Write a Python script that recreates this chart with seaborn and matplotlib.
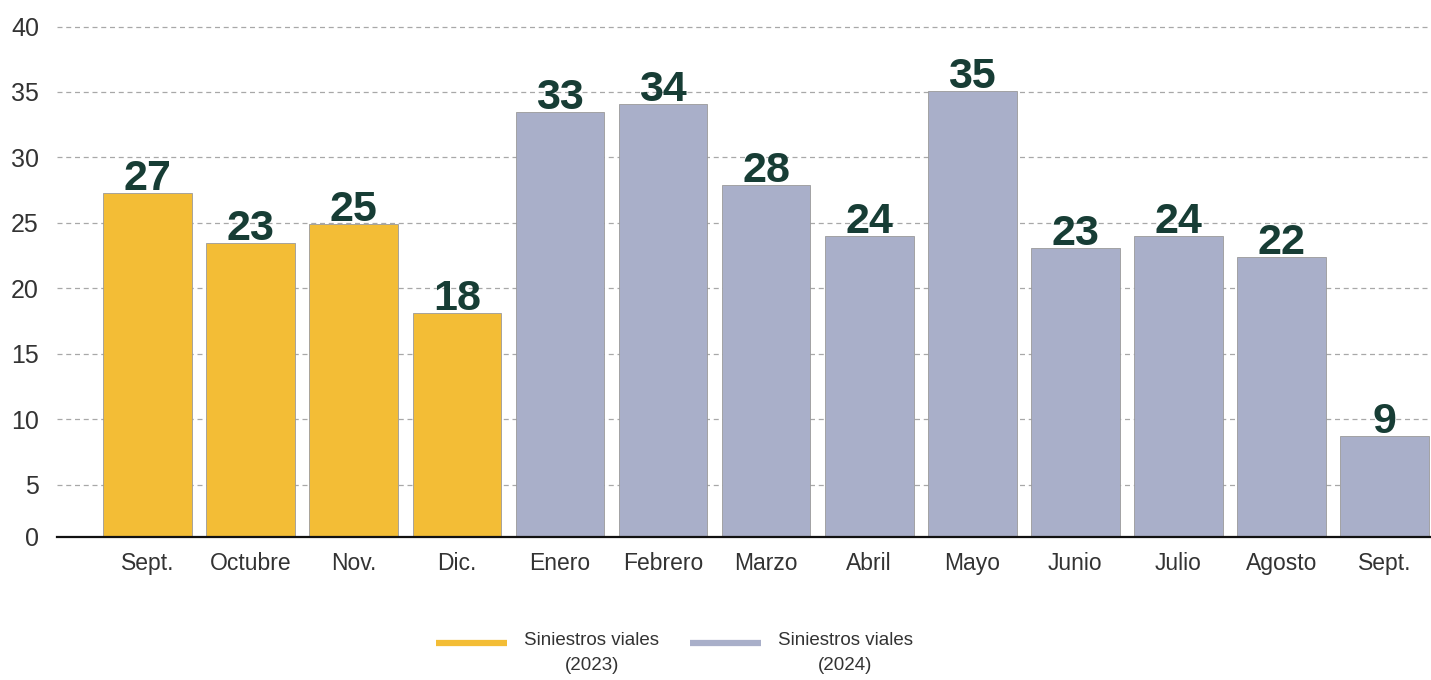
"""Siniestros viales por mes, sept. 2023 - sept. 2024"""
import seaborn as sns
import matplotlib.pyplot as plt
import pandas as pd
from matplotlib.lines import Line2D

YELLOW, GREY = '#F3BD36', '#A9AFC9'
LABEL_C, TEXT_C, GRID_C = '#173D35', '#333333', '#a8a8a8'

months = ['Sept.', 'Octubre', 'Nov.', 'Dic.', 'Enero', 'Febrero', 'Marzo',
          'Abril', 'Mayo', 'Junio', 'Julio', 'Agosto', 'Sept.']
years = ['2023'] * 4 + ['2024'] * 9
values = [27.3, 23.5, 24.9, 18.1, 33.5, 34.1, 27.9, 24.0, 35.1, 23.1, 24.0, 22.4, 8.7]
labels = [27, 23, 25, 18, 33, 34, 28, 24, 35, 23, 24, 22, 9]
legend_labels = ['Siniestros viales\n(2023)', 'Siniestros viales\n(2024)']
yticks = [5, 10, 15, 20, 25, 30, 35, 40]

df = pd.DataFrame({'idx': range(len(months)), 'Mes': months,
                   'Valor': values, 'Año': years})

sns.set_theme(style='white')
plt.rcParams['font.family'] = ['Liberation Sans', 'DejaVu Sans']

W, H = 1431, 680
fig = plt.figure(figsize=(W / 100, H / 100), dpi=100, facecolor='white')
ax = fig.add_axes([0.0398, 0.2103, 0.9602, 0.7603])

for y in yticks:
    ax.axhline(y, color=GRID_C, lw=0.9, ls=(0, (4, 3)), zorder=0)

sns.barplot(data=df, x='idx', y='Valor', hue='Año', dodge=False,
            palette={'2023': YELLOW, '2024': GREY}, width=0.86, saturation=1,
            edgecolor='#9a9a9a', linewidth=0.6, ax=ax, zorder=2, legend=False)

for i, (v, lab) in enumerate(zip(values, labels)):
    ax.annotate(str(lab), (i, v), xytext=(0, 2), textcoords='offset points',
                ha='center', va='baseline', fontsize=31, fontweight='bold',
                color=LABEL_C, zorder=4)

ax.set_xlim(-0.88, 12.45)
ax.set_ylim(1, 40.5)
ax.set_yticks([1] + yticks)
ax.set_yticklabels(['0'] + [str(t) for t in yticks])
ax.set_xticks(range(len(months)))
ax.set_xticklabels(months)
ax.tick_params(axis='both', length=0, labelsize=16.5, colors=TEXT_C)
ax.tick_params(axis='y', labelsize=18, pad=13)
ax.tick_params(axis='x', pad=11)
ax.set_xlabel('')
ax.set_ylabel('')
for side in ['top', 'right', 'left']:
    ax.spines[side].set_visible(False)
ax.spines['bottom'].set_color('#111111')
ax.spines['bottom'].set_linewidth(1.6)
ax.spines['bottom'].set_zorder(5)

# legend drawn by hand so the swatch sits level with the first text line
for (x0, x1, xt), col, lab in zip([(436, 507, 592), (690, 761, 845)],
                                  [YELLOW, GREY], legend_labels):
    fig.add_artist(Line2D([x0 / W, x1 / W], [1 - 643 / H] * 2, color=col, lw=4.5,
                          solid_capstyle='butt', transform=fig.transFigure))
    fig.text(xt / W, 1 - 653 / H, lab, ha='center', va='center',
             multialignment='center', linespacing=1.55, fontsize=13.5, color=TEXT_C)

plt.savefig('out.png', dpi=100, facecolor='white')
